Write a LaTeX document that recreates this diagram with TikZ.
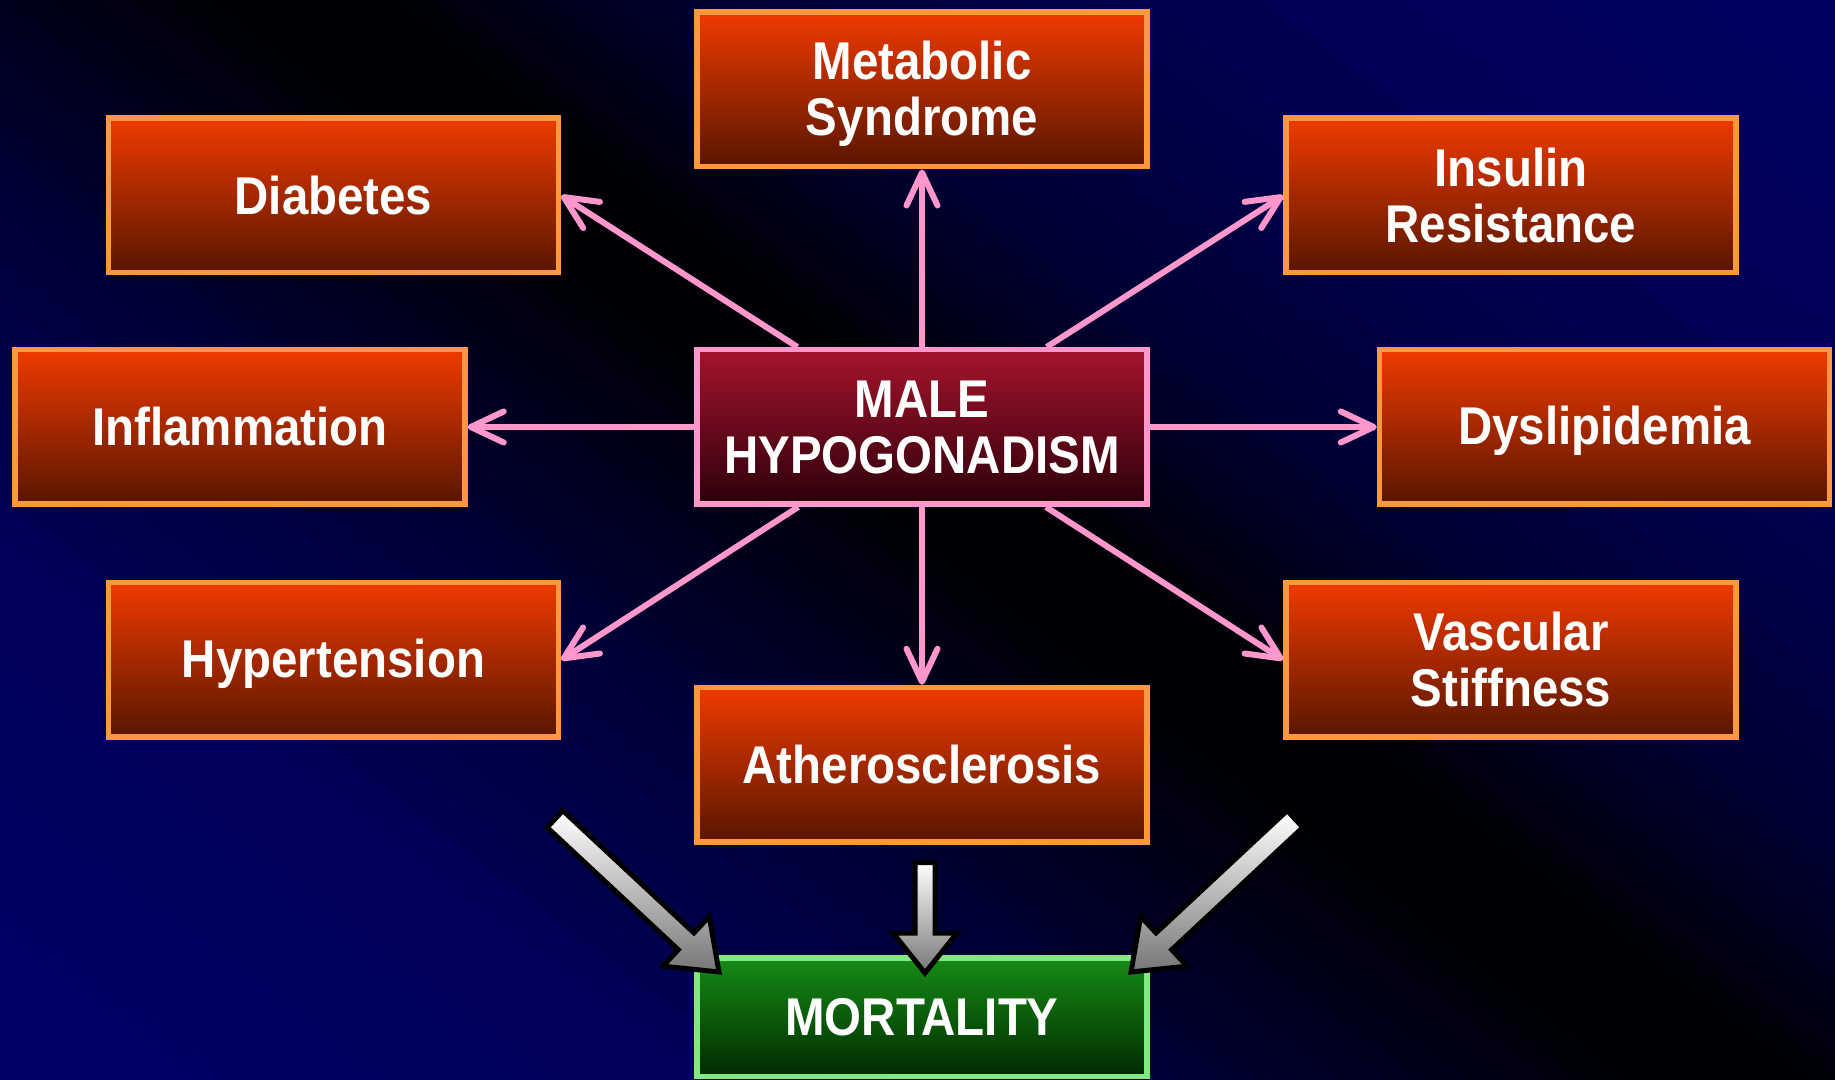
\documentclass[tikz,border=0pt]{standalone}
\usepackage{graphicx}
\usepackage{fontspec}
\setmainfont{Liberation Sans}
\usetikzlibrary{calc,arrows.meta}

\definecolor{boxtop}{RGB}{240,58,0}
\definecolor{boxbot}{RGB}{88,22,0}
\definecolor{boxline}{RGB}{255,150,64}
\definecolor{hypotop}{RGB}{165,20,45}
\definecolor{hypobot}{RGB}{45,0,10}
\definecolor{linkpink}{RGB}{255,150,204}
\definecolor{morttop}{RGB}{22,140,22}
\definecolor{mortbot}{RGB}{0,42,0}
\definecolor{mortline}{RGB}{130,232,130}
\definecolor{arrowgray}{RGB}{118,118,118}

\newcommand\boxtext[1]{\scalebox{1}[1.12]{\setbox\strutbox\hbox{\vrule height 11.9pt depth 2.3pt width 0pt}\begin{tabular}{@{}c@{}}#1\end{tabular}}}
\def\blockarrow(#1)(#2)(#3:#4:#5){%
  \coordinate (ab) at ($(#2)!#5!(#1)$);
  \draw[bigarrow] ($(#1)!#3!90:(#2)$) -- ($(ab)!#3!90:(#2)$) -- ($(ab)!#4!90:(#2)$) -- (#2) -- ($(ab)!#4!-90:(#2)$) -- ($(ab)!#3!-90:(#2)$) -- ($(#1)!#3!-90:(#2)$) -- cycle;}

\tikzset{
  riskbox/.style={draw=boxline, line width=0.055cm, top color=boxtop, bottom color=boxbot, minimum width=4.5cm, minimum height=1.545cm, inner sep=0pt, text=white, font=\fontsize{13.5}{14.2}\selectfont\bfseries},
  hypobox/.style={riskbox, draw=linkpink, top color=hypotop, bottom color=hypobot},
  mortbox/.style={riskbox, draw=mortline, top color=morttop, bottom color=mortbot, minimum height=1.185cm},
  link/.style={draw=linkpink, line width=0.06cm, -{Straight Barb[length=3.3mm,width=3.1mm,round]}},
  bigarrow/.style={draw=black, line width=0.05cm, top color=white, bottom color=arrowgray}
}

\begin{document}
\begin{tikzpicture}
			\useasboundingbox (0,0) rectangle (18.35,10.79);
			
			% background: navy - black - navy across the diagonal
			\begin{scope}
				\clip (0,0) rectangle (18.35,10.79);
				\begin{scope}[transform canvas={shift={(10.125,5.395)}, rotate=52.7}]
					\foreach \da/\ba/\db/\bb in {-13/105/-10.4/105, -10.4/105/-6.2/88, -6.2/88/-3.4/56, -3.4/56/-1.9/30, -1.9/30/-0.5/6, -0.5/6/0.5/6, 0.5/6/2.3/48, 2.3/48/5.1/80, 5.1/80/9.3/100, 9.3/100/13/100}
						\shade[left color={rgb,255:red,0;green,0;blue,\ba}, right color={rgb,255:red,0;green,0;blue,\bb}] (\da-0.01,-14) rectangle (\db+0.01,14);
				\end{scope}
			\end{scope}
			
			% boxes
			\node[hypobox] (hypo) at (9.22, 6.52) {\boxtext{MALE\\HYPOGONADISM}};
			
			\node[riskbox] (metab) at (9.22, 9.895) {\boxtext{Metabolic\\Syndrome}};
			\node[riskbox] (diab) at (3.335, 8.835) {\boxtext{Diabetes}};
			\node[riskbox] (insul) at (15.11, 8.835) {\boxtext{Insulin\\Resistance}};
			\node[riskbox] (infl) at (2.40, 6.52) {\boxtext{Inflammation}};
			\node[riskbox] (dysl) at (16.045, 6.52) {\boxtext{Dyslipidemia}};
			\node[riskbox] (hyper) at (3.335, 4.19) {\boxtext{Hypertension}};
			\node[riskbox] (vasc) at (15.11, 4.19) {\boxtext{Vascular\\Stiffness}};
			\node[riskbox] (ather) at (9.22, 3.142) {\boxtext{Atherosclerosis}};
			
			\node[mortbox] (mort) at (9.22, 0.62) {\boxtext{MORTALITY}};
			
			% links
			\draw[link] (hypo) -- (metab);
			\draw[link] (hypo) -- (diab.east);
			\draw[link] (hypo) -- (insul.west);
			\draw[link] (hypo) -- (infl);
			\draw[link] (hypo) -- (dysl);
			\draw[link] (hypo) -- (hyper.east);
			\draw[link] (hypo) -- (vasc.west);
			\draw[link] (hypo) -- (ather);
			
			% big arrows into mortality
			\coordinate (lefttail) at (5.55, 2.60);
			\coordinate (lefttip) at (7.19, 1.07);
			\coordinate (midtail) at (9.25, 2.165);
			\coordinate (midtip) at (9.25, 1.06);
			\coordinate (righttail) at (12.95, 2.60);
			\coordinate (righttip) at (11.31, 1.07);
			
			\blockarrow(lefttail)(lefttip)(0.115cm:0.34cm:0.45cm)
			\blockarrow(midtail)(midtip)(0.1cm:0.32cm:0.40cm)
			\blockarrow(righttail)(righttip)(0.115cm:0.34cm:0.45cm)
			
\end{tikzpicture}
\end{document}
